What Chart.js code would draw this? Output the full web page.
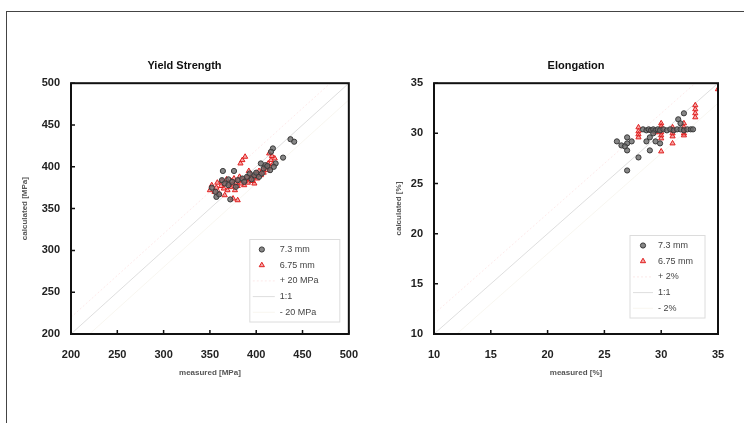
<!DOCTYPE html>
<html>
<head>
<meta charset="utf-8">
<script src="https://cdn.jsdelivr.net/npm/chart.js@4.4.1/dist/chart.umd.min.js"></script>
<style>
  html, body { margin: 0; padding: 0; background: #fff; }
  body { width: 744px; height: 423px; position: relative; overflow: hidden; font-family: "Liberation Sans", Arial, sans-serif; }
  #frame { position: absolute; left: 6px; top: 11px; width: 740px; height: 414px; border-top: 1px solid #444; border-left: 1px solid #444; }
  canvas { position: absolute; top: 0; }
  #ysChart { left: 0; }
  #elChart { left: 372px; }
</style>
</head>
<body>
<div id="frame"></div>
<canvas id="ysChart" width="372" height="423"></canvas>
<canvas id="elChart" width="372" height="423"></canvas>
<script>
// ---- Yield strength data (MPa) ----
const ysMeasured73 = [437, 441, 418, 416, 429, 405, 421, 419, 410, 364, 376, 363, 352, 357, 372, 360, 366, 370,
  374, 380, 385, 390, 395, 398, 400, 403, 408, 412, 415, 387, 393, 370, 356, 378, 406];
const ysCalculated73 = [433, 430, 422, 418, 411, 404, 404, 400, 402, 395, 395, 384, 375, 364, 361, 367, 380, 385,
  382, 384, 386, 388, 385, 390, 393, 388, 398, 401, 396, 382, 392, 378, 370, 376, 392];
const ysMeasured675 = [350, 352, 355, 357, 358, 360, 362, 363, 365, 366, 368, 369, 370, 372, 373, 375, 376, 377,
  378, 380, 381, 382, 384, 385, 387, 388, 390, 391, 393, 395, 396, 398, 400, 401, 403, 405, 407, 408, 410, 412,
  413, 415, 416, 418, 417, 414, 420, 385, 388, 383, 375, 380, 366, 392, 398];
const ysCalculated675 = [372, 378, 370, 375, 381, 368, 377, 383, 374, 379, 385, 372, 380, 376, 383, 379, 386, 372,
  381, 377, 384, 388, 380, 385, 378, 383, 387, 381, 385, 390, 383, 388, 392, 386, 395, 390, 397, 393, 400, 396,
  404, 399, 408, 403, 413, 416, 410, 408, 412, 404, 362, 360, 366, 395, 380];
const ysLineX = [200, 500];
const ysLinePlus = [220, 520];
const ysLineOne = [200, 500];
const ysLineMinus = [180, 480];
const ysTicks = [200, 250, 300, 350, 400, 450, 500];

// ---- Elongation data (%) ----
const elMeasured73 = [28.4, 28.7, 28.9, 29.1, 29.3, 29.5, 29.7, 29.9, 30.2, 30.5, 30.8, 31.1, 31.4, 31.7, 32.0,
  32.3, 32.6, 32.8, 26.1, 26.5, 27.0, 27.4, 27.0, 27.0, 27.0, 28.0, 28.7, 29.0, 29.5, 29.0, 29.9, 31.5, 32.0,
  31.7, 29.3, 26.8];
const elCalculated73 = [30.4, 30.3, 30.4, 30.3, 30.4, 30.3, 30.4, 30.3, 30.4, 30.3, 30.4, 30.3, 30.4, 30.4, 30.3,
  30.4, 30.4, 30.4, 29.2, 28.8, 29.0, 29.2, 29.6, 28.3, 26.3, 27.6, 29.2, 29.6, 29.2, 28.3, 29.0, 31.4, 32.0,
  31.0, 30.0, 28.7];
const elMeasured675 = [28, 28, 28, 28, 30, 30, 30, 30, 30, 30, 30, 31, 31, 31, 31, 31, 32, 32, 32, 32, 32,
  33, 33, 33, 33, 35, 29.5, 29];
const elCalculated675 = [30.6, 30.2, 29.9, 29.6, 31.0, 30.7, 30.4, 30.1, 29.8, 29.5, 28.2, 30.6, 30.3, 30.0,
  29.7, 29.0, 31.0, 30.6, 30.3, 30.0, 29.8, 32.8, 32.4, 32.0, 31.6, 34.4, 30.1, 30.3];
const elLineX = [10, 35];
const elLinePlus = [12, 37];
const elLineOne = [10, 35];
const elLineMinus = [8, 33];
const elTicks = [10, 15, 20, 25, 30, 35];

const toPoints = (xs, ys) => xs.map((x, i) => ({ x: x, y: ys[i] }));

// box round the plot area plus short inward ticks
const frameTicks = {
  id: 'frameTicks',
  afterDraw(chart) {
    const { ctx, chartArea: a, scales } = chart;
    ctx.save();
    ctx.strokeStyle = '#111';
    ctx.lineWidth = 2;
    ctx.strokeRect(a.left, a.top, a.width, a.height);
    ctx.lineWidth = 1.5;
    ctx.beginPath();
    scales.x.ticks.forEach(t => {
      const px = scales.x.getPixelForValue(t.value);
      ctx.moveTo(px, a.bottom);
      ctx.lineTo(px, a.bottom - 4);
    });
    scales.y.ticks.forEach(t => {
      const py = scales.y.getPixelForValue(t.value);
      ctx.moveTo(a.left, py);
      ctx.lineTo(a.left + 4, py);
    });
    ctx.stroke();
    ctx.restore();
  }
};

// legend drawn inside the lower right corner of the plot
const insideLegend = {
  id: 'insideLegend',
  afterDraw(chart, args, opts) {
    const { ctx, chartArea: a } = chart;
    const sets = chart.data.datasets;
    const rowH = 15.7;
    const h = rowH * sets.length + 4;
    const x0 = a.right - opts.right - opts.width;
    const y0 = a.bottom - opts.bottom - h;
    ctx.save();
    ctx.fillStyle = '#fff';
    ctx.fillRect(x0, y0, opts.width, h);
    ctx.strokeStyle = '#dcdcdc';
    ctx.lineWidth = 1;
    ctx.strokeRect(x0, y0, opts.width, h);
    ctx.font = '9px "Liberation Sans", Arial, sans-serif';
    ctx.textBaseline = 'middle';
    sets.forEach((ds, i) => {
      const y = y0 + 10 + i * rowH;
      if (ds.showLine) {
        ctx.strokeStyle = ds.borderColor;
        ctx.lineWidth = ds.borderWidth;
        ctx.setLineDash(ds.borderDash || []);
        ctx.beginPath();
        ctx.moveTo(x0 + 3, y);
        ctx.lineTo(x0 + opts.textX - 5, y);
        ctx.stroke();
        ctx.setLineDash([]);
      } else {
        ctx.fillStyle = ds.backgroundColor;
        ctx.strokeStyle = ds.borderColor;
        ctx.lineWidth = ds.borderWidth;
        Chart.helpers.drawPoint(ctx, { pointStyle: ds.pointStyle, radius: ds.pointRadius, rotation: 0, borderWidth: ds.borderWidth }, x0 + opts.markerX, y);
      }
      ctx.fillStyle = '#444';
      ctx.fillText(ds.label, x0 + opts.textX, y);
    });
    ctx.restore();
  }
};

function makeChart(id, cfg) {
  const tickFont = { family: '"Liberation Sans", Arial, sans-serif', size: 11, weight: 'bold' };
  const titleFont = { family: '"Liberation Sans", Arial, sans-serif', size: 8, weight: 'bold' };
  return new Chart(document.getElementById(id), {
    type: 'scatter',
    data: {
      datasets: [
        {
          label: cfg.labels[0],
          data: toPoints(cfg.mx73, cfg.cy73),
          pointStyle: 'circle',
          pointRadius: 2.6,
          backgroundColor: 'rgba(105, 105, 105, 0.8)',
          borderColor: '#3a3a3a',
          borderWidth: 1
        },
        {
          label: cfg.labels[1],
          data: toPoints(cfg.mx675, cfg.cy675),
          pointStyle: 'triangle',
          pointRadius: 3,
          backgroundColor: 'rgba(235, 60, 60, 0.45)',
          borderColor: '#e02020',
          borderWidth: 1
        },
        {
          label: cfg.labels[2],
          data: toPoints(cfg.lineX, cfg.plus),
          showLine: true,
          pointRadius: 0,
          borderColor: 'rgba(245, 160, 160, 0.22)',
          borderDash: [2, 2],
          borderWidth: 1
        },
        {
          label: cfg.labels[3],
          data: toPoints(cfg.lineX, cfg.one),
          showLine: true,
          pointRadius: 0,
          borderColor: 'rgba(195, 195, 195, 0.55)',
          borderWidth: 1
        },
        {
          label: cfg.labels[4],
          data: toPoints(cfg.lineX, cfg.minus),
          showLine: true,
          pointRadius: 0,
          borderColor: 'rgba(225, 215, 185, 0.22)',
          borderWidth: 1
        }
      ]
    },
    options: {
      responsive: false,
      animation: false,
      layout: { padding: cfg.padding },
      scales: {
        x: {
          type: 'linear',
          min: cfg.ticks[0],
          max: cfg.ticks[cfg.ticks.length - 1],
          afterBuildTicks: s => { s.ticks = cfg.ticks.map(v => ({ value: v })); },
          ticks: { font: tickFont, color: '#222', padding: 14 },
          grid: { display: false, drawTicks: false },
          border: { display: false },
          title: { display: true, text: cfg.xTitle, font: titleFont, color: '#555', padding: 0 },
          afterFit: s => { s.height = 44; }
        },
        y: {
          type: 'linear',
          min: cfg.ticks[0],
          max: cfg.ticks[cfg.ticks.length - 1],
          afterBuildTicks: s => { s.ticks = cfg.ticks.map(v => ({ value: v })); },
          ticks: { font: tickFont, color: '#222', padding: 11 },
          grid: { display: false, drawTicks: false },
          border: { display: false },
          title: { display: true, text: cfg.yTitle, font: titleFont, color: '#555', padding: 0 },
          afterFit: s => { s.width = cfg.yWidth; }
        }
      },
      plugins: {
        legend: { display: false },
        tooltip: { enabled: false },
        title: {
          display: true,
          text: cfg.title,
          fullSize: cfg.titleFull,
          color: '#111',
          font: { family: '"Liberation Sans", Arial, sans-serif', size: 11, weight: 'bold' },
          padding: { top: 9, bottom: 11 }
        },
        insideLegend: cfg.legend
      }
    },
    plugins: [frameTicks, insideLegend]
  });
}

makeChart('ysChart', {
  title: 'Yield Strength',
  titleFull: true,
  xTitle: 'measured [MPa]',
  yTitle: 'calculated [MPa]',
  labels: ['7.3 mm', '6.75 mm', '+ 20 MPa', '1:1', '- 20 MPa'],
  mx73: ysMeasured73, cy73: ysCalculated73,
  mx675: ysMeasured675, cy675: ysCalculated675,
  lineX: ysLineX, plus: ysLinePlus, one: ysLineOne, minus: ysLineMinus,
  ticks: ysTicks,
  padding: { left: 20, right: 23, top: 50, bottom: 45 },
  yWidth: 51,
  legend: { width: 90, right: 9, bottom: 12, markerX: 12, textX: 30 }
});

makeChart('elChart', {
  title: 'Elongation',
  titleFull: false,
  xTitle: 'measured [%]',
  yTitle: 'calculated [%]',
  labels: ['7.3 mm', '6.75 mm', '+ 2%', '1:1', '- 2%'],
  mx73: elMeasured73, cy73: elCalculated73,
  mx675: elMeasured675, cy675: elCalculated675,
  lineX: elLineX, plus: elLinePlus, one: elLineOne, minus: elLineMinus,
  ticks: elTicks,
  padding: { left: 22, right: 26, top: 50, bottom: 45 },
  yWidth: 40,
  legend: { width: 75, right: 13, bottom: 16, markerX: 13, textX: 28 }
});
</script>
</body>
</html>
